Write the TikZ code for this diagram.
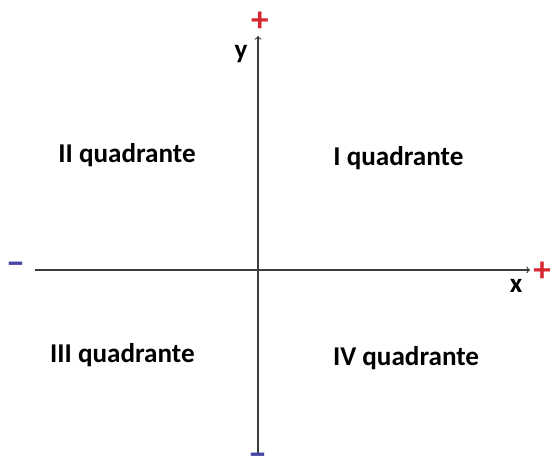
\documentclass[tikz,border=0pt]{standalone}
\usepackage{fontspec}
\setmainfont{Carlito}
\definecolor{axisgray}{RGB}{60,60,60}
\definecolor{signred}{RGB}{215,40,50}
\definecolor{signblue}{RGB}{70,70,165}
\begin{document}
\begin{tikzpicture}[
    quad/.style={font=\fontsize{19.3}{23}\selectfont\bfseries},
    plussign/.style={text=signred,font=\fontsize{25}{28}\selectfont\bfseries,inner sep=0pt},
    minussign/.style={text=signblue,font=\fontsize{27}{30}\selectfont\bfseries,inner sep=0pt},
    axis/.style={draw=axisgray,line width=0.8pt,->}]
    \useasboundingbox (-6.45,-4.85) rectangle (7.35,6.75);
    % axes
    \coordinate (xmin) at (-5.575,0);
    \coordinate (xmax) at (6.8,0);
    \coordinate (ymin) at (0,-4.625);
    \coordinate (ymax) at (0,5.85);
    \draw[axis] (xmin) -- (xmax);
    \draw[axis] (ymin) -- (ymax);
    \node[quad] (xlab) at (6.45,-0.4) {x};
    \node[quad] (ylab) at (-0.425,5.4) {y};
    % signs
    \node[plussign] (xplus) at (7.1,-0.05) {+};
    \node[plussign] (yplus) at (0.05,6.2) {+};
    \node[minussign] (xminus) at (-6.05,0.05) {–};
    \node[minussign] (yminus) at (0,-4.72) {–};
    % quadrants
    \node[quad] (qI) at (3.51,2.8) {I quadrante};
    \node[quad] (qII) at (-3.275,2.875) {II quadrante};
    \node[quad] (qIII) at (-3.39,-2.125) {III quadrante};
    \node[quad] (qIV) at (3.7,-2.2) {IV quadrante};
\end{tikzpicture}
\end{document}
